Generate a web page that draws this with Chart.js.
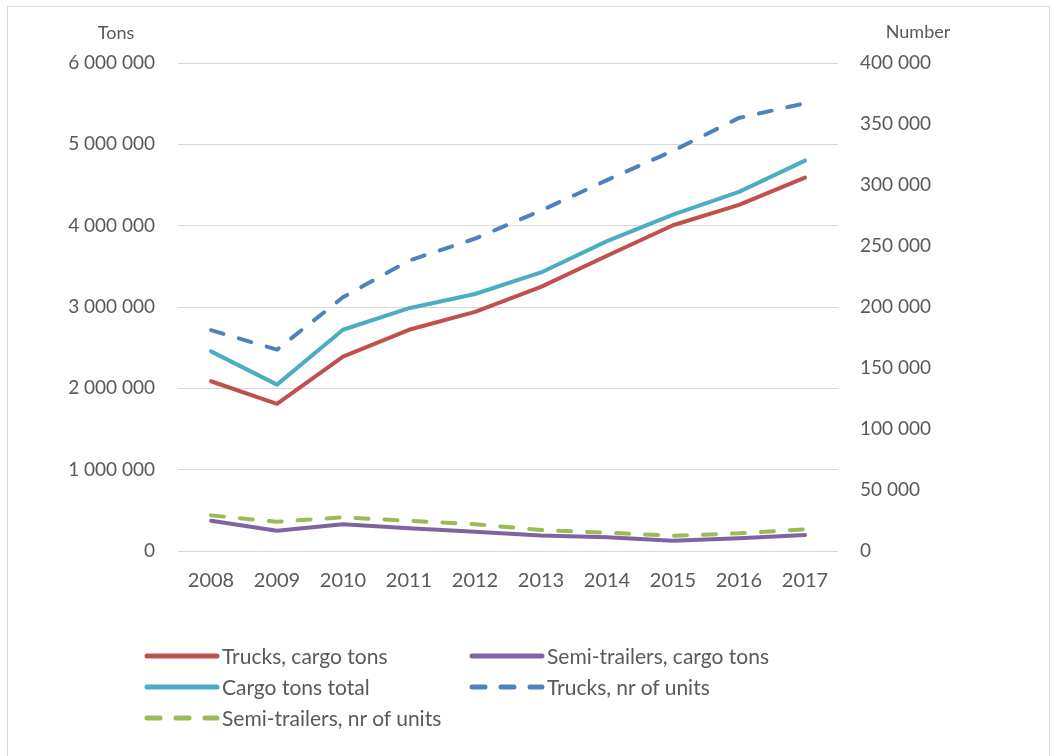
<!DOCTYPE html>
<html>
<head>
<meta charset="utf-8">
<script src="https://cdn.jsdelivr.net/npm/chart.js@4"></script>
<style>
    body { margin: 0; background: #fff; }
    #wrap { position: relative; width: 1059px; height: 756px; overflow: hidden; }
    #frame { position: absolute; left: 7px; top: 6px; width: 1043px; height: 760px; border: 1px solid #d9d9d9; box-sizing: border-box; }
    #legend { position: absolute; left: 143px; top: 643px; display: grid; grid-template-columns: 325px 330px; row-gap: 6px;
        font-family: "Lato", sans-serif; font-size: 21px; color: #595959; }
    .item { display: flex; align-items: center; height: 25px; white-space: nowrap; }
    .item svg { margin-right: 1px; }
</style>
</head>
<body>
<div id="wrap">
    <div id="frame"></div>
    <canvas id="chart" width="1059" height="756"></canvas>
    <div id="legend"></div>
</div>
<script>
const years = ["2008", "2009", "2010", "2011", "2012", "2013", "2014", "2015", "2016", "2017"];

const trucksTons = [2087000, 1810000, 2390000, 2720000, 2940000, 3247000, 3630000, 4005000, 4255000, 4590000];
const semiTons = [373000, 250000, 330000, 280000, 237000, 190000, 168000, 127000, 156000, 197000];
const totalTons = [2454000, 2046000, 2720000, 2985000, 3160000, 3425000, 3810000, 4135000, 4415000, 4800000];
const trucksUnits = [181000, 165000, 208000, 238000, 256000, 279000, 304000, 328000, 355000, 367000];
const semiUnits = [29200, 24000, 27600, 24800, 22000, 17200, 15000, 12500, 14500, 17800];

const leftTicks = [0, 1000000, 2000000, 3000000, 4000000, 5000000, 6000000];
const rightTicks = [0, 50000, 100000, 150000, 200000, 250000, 300000, 350000, 400000];

const FONT = "'Lato', sans-serif";
const TXT = "#595959";

// number with space as thousands separator
function fmt(v) {
    return String(v).replace(/\B(?=(\d{3})+(?!\d))/g, " ");
}

const series = [
    { label: "Trucks, cargo tons", data: trucksTons, color: "#C0504D", axis: "y", dash: [] },
    { label: "Semi-trailers, cargo tons", data: semiTons, color: "#8064A2", axis: "y", dash: [] },
    { label: "Cargo tons total", data: totalTons, color: "#4BACC6", axis: "y", dash: [] },
    { label: "Trucks, nr of units", data: trucksUnits, color: "#4F81BD", axis: "y1", dash: [13, 16] },
    { label: "Semi-trailers, nr of units", data: semiUnits, color: "#9BBB59", axis: "y1", dash: [13, 16] }
];

// axis titles on top of both axes
const axisTitles = {
    id: "axisTitles",
    afterDraw(chart) {
        const ctx = chart.ctx;
        ctx.save();
        ctx.font = "18px " + FONT;
        ctx.fillStyle = TXT;
        ctx.textAlign = "center";
        ctx.textBaseline = "middle";
        ctx.fillText("Tons", 116, 33);
        ctx.fillText("Number", 918, 32);
        ctx.restore();
    }
};

new Chart(document.getElementById("chart"), {
    type: "line",

    data: {
        labels: years,
        datasets: series.map(s => ({
            label: s.label,
            data: s.data,
            yAxisID: s.axis,
            borderColor: s.color,
            backgroundColor: s.color,
            borderWidth: 4,
            borderDash: s.dash,
            borderCapStyle: "round",
            borderJoinStyle: "round",
            pointRadius: 0,
            tension: 0
        }))
    },

    options: {
        responsive: false,
        animation: false,
        layout: { padding: { top: 63, right: 0, left: 0, bottom: 0 } },

        plugins: {
            legend: { display: false },
            tooltip: { enabled: false }
        },

        scales: {
            x: {
                offset: true,
                grid: { display: false, drawTicks: false },
                border: { display: false },
                ticks: { color: TXT, font: { family: FONT, size: 20 }, padding: 18, maxRotation: 0 },
                afterFit: (s) => { s.height = 205; }
            },
            y: {
                position: "left",
                min: 0,
                max: 6000000,
                afterBuildTicks: (s) => { s.ticks = leftTicks.map(v => ({ value: v })); },
                grid: { color: "#d9d9d9", lineWidth: 1, drawTicks: false },
                border: { display: false },
                ticks: { color: TXT, font: { family: FONT, size: 19 }, padding: 23, callback: (v) => fmt(v) },
                afterFit: (s) => { s.width = 178; }
            },
            y1: {
                position: "right",
                min: 0,
                max: 400000,
                afterBuildTicks: (s) => { s.ticks = rightTicks.map(v => ({ value: v })); },
                grid: { display: false, drawTicks: false },
                border: { display: false },
                ticks: { color: TXT, font: { family: FONT, size: 19 }, padding: 22, callback: (v) => fmt(v) },
                afterFit: (s) => { s.width = 221; }
            }
        }
    },

    plugins: [axisTitles]
});

// legend in two columns, like the original
const legend = document.getElementById("legend");
series.forEach(s => {
    const item = document.createElement("div");
    item.className = "item";
    const dash = s.dash.length ? `stroke-dasharray="${s.dash.join(" ")}"` : "";
    item.innerHTML =
        `<svg width="78" height="10"><line x1="4" y1="5" x2="74" y2="5" stroke="${s.color}" stroke-width="5" stroke-linecap="round" ${dash}/></svg>` +
        `<span>${s.label}</span>`;
    legend.appendChild(item);
});
</script>
</body>
</html>
